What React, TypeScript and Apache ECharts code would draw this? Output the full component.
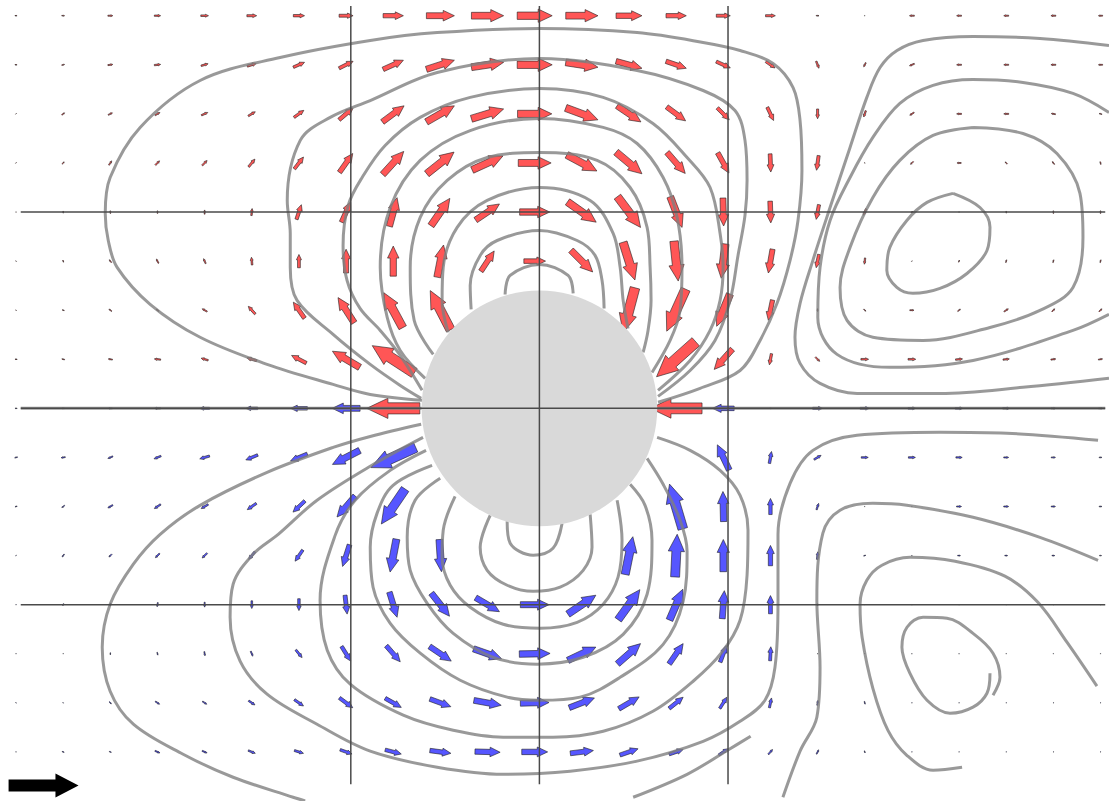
import React, { useEffect, useRef } from "react";
import * as echarts from "echarts";

// ---------- axes / frame ----------
const X_MIN = -2.86;
const X_MAX = 3.02;
const Y_MIN = -2.0;
const Y_MAX = 2.08;
const GRID_X = [-1, 0, 1];
const GRID_Y = [-1, 0, 1];
const GRID_X_EXTENT = [-2.75, 3.0];
const GRID_Y_EXTENT = [-1.915, 2.05];

// ---------- cylinder ----------
const CYLINDER_CENTER = [0, 0];
const CYLINDER_RADIUS = 0.6;

// ---------- velocity field (sampling grid) ----------
const ARROW_X = [-2.775, -2.525, -2.275, -2.025, -1.775, -1.525, -1.275, -1.025, -0.775, -0.525, -0.275, -0.025,
  0.225, 0.475, 0.725, 0.975, 1.225, 1.475, 1.725, 1.975, 2.225, 2.475, 2.725, 2.975];
const ARROW_Y = [2.0, 1.75, 1.5, 1.25, 1.0, 0.75, 0.5, 0.25, 0, -0.25, -0.5, -0.75, -1.0, -1.25, -1.5, -1.75];

const U = [
  [0.03, 0.04, 0.07, 0.09, 0.11, 0.14, 0.16, 0.2, 0.29, 0.4, 0.46, 0.5, 0.46, 0.37, 0.29, 0.2, 0.14, 0.04, 0.01, -0.07, -0.07, -0.07, -0.07, -0.06],
  [0.03, 0.04, 0.07, 0.09, 0.1, 0.13, 0.16, 0.2, 0.29, 0.4, 0.46, 0.5, 0.46, 0.37, 0.29, 0.2, 0.13, 0.04, -0.03, -0.07, -0.07, -0.07, -0.07, -0.06],
  [0.01, 0.04, 0.06, 0.07, 0.09, 0.1, 0.14, 0.2, 0.31, 0.4, 0.46, 0.49, 0.46, 0.34, 0.27, 0.17, 0.09, 0, -0.03, -0.06, -0.07, -0.07, -0.06, -0.04],
  [0.01, 0.03, 0.04, 0.06, 0.07, 0.09, 0.13, 0.19, 0.3, 0.39, 0.44, 0.47, 0.43, 0.37, 0.26, 0.16, 0.01, -0.03, 0.01, -0.04, -0.06, -0.03, -0.03, -0.01],
  [0, 0, 0, 0, 0, 0.01, 0.07, 0.13, 0.11, 0.27, 0.34, 0.43, 0.41, 0.33, 0.17, 0.01, 0.01, -0.04, -0.04, -0.03, 0.01, 0, 0, 0],
  [-0.01, -0.01, -0.03, -0.03, -0.03, -0.01, 0, 0, 0, 0.09, 0.19, 0.31, 0.31, 0.17, 0.06, -0.06, -0.06, -0.04, -0.01, 0.01, 0.01, 0.01, 0.01, 0.01],
  [-0.01, -0.03, -0.04, -0.04, -0.07, -0.1, -0.16, -0.23, -0.27, -0.29, 0, 0, 0, -0.17, -0.27, -0.19, -0.06, 0, 0.03, 0.06, 0.04, 0.06, 0.04, 0.04],
  [-0.03, -0.04, -0.06, -0.09, -0.1, -0.14, -0.21, -0.39, -0.6, 0, 0, 0, 0, 0, -0.56, -0.26, -0.03, 0.06, 0.11, 0.11, 0.1, 0.09, 0.07, 0.06],
  [-0.03, -0.04, -0.06, -0.09, -0.14, -0.17, -0.24, -0.4, -0.76, 0, 0, 0, 0, 0, -0.74, -0.31, -0.03, 0.14, 0.13, 0.11, 0.11, 0.1, 0.07, 0.06],
  [-0.04, -0.06, -0.07, -0.1, -0.14, -0.17, -0.24, -0.39, -0.64, 0, 0, 0, 0, 0, 0, -0.17, 0.03, 0.1, 0.1, 0.1, 0.09, 0.07, 0.06, 0.04],
  [-0.03, -0.04, -0.07, -0.09, -0.1, -0.13, -0.17, -0.26, -0.34, 0, 0, 0, 0, 0, -0.19, -0.01, 0, 0.03, 0.01, 0.01, 0.07, 0.07, 0.06, 0.04],
  [-0.01, -0.03, -0.04, -0.06, -0.07, -0.09, -0.11, -0.1, -0.09, 0.03, 0, 0, 0, 0.11, 0.03, 0, 0, 0.01, 0.03, 0.01, 0.04, 0.04, 0.04, 0.03],
  [-0.01, -0.01, -0.01, -0.01, 0, 0, 0, 0.03, 0.11, 0.26, 0.34, 0.41, 0.4, 0.31, 0.19, 0.03, 0, 0, 0, 0.01, 0.01, 0.01, 0.01, 0.01],
  [0, 0, 0, 0.01, 0.01, 0.03, 0.09, 0.13, 0.2, 0.31, 0.4, 0.44, 0.4, 0.33, 0.2, 0.09, 0.01, 0, 0, 0.01, 0.01, 0, 0, 0],
  [0.01, 0.01, 0.03, 0.06, 0.06, 0.09, 0.13, 0.19, 0.23, 0.3, 0.39, 0.41, 0.36, 0.29, 0.2, 0.1, 0.03, 0.01, 0.01, -0.01, -0.01, -0.01, -0.01, -0.01],
  [0.01, 0.03, 0.03, 0.07, 0.07, 0.1, 0.13, 0.17, 0.23, 0.3, 0.36, 0.37, 0.33, 0.26, 0.2, 0.13, 0.06, 0.03, 0.01, -0.01, -0.01, -0.01, -0.01, -0.01],
];

const V = [
  [0, 0, 0, 0, 0, 0, 0, 0, 0, 0, 0, 0, 0, 0, 0, 0, 0, 0, 0, 0, 0, 0, 0, 0],
  [0, 0.01, 0.01, 0.01, 0.03, 0.04, 0.07, 0.1, 0.13, 0.13, 0.07, 0, -0.07, -0.1, -0.1, -0.09, -0.09, -0.1, -0.06, -0.03, 0, 0, 0, 0],
  [0.01, 0.03, 0.03, 0.04, 0.04, 0.06, 0.1, 0.17, 0.23, 0.23, 0.14, 0, -0.17, -0.23, -0.2, -0.17, -0.19, -0.14, -0.09, -0.04, 0, 0, 0.01, 0.01],
  [0.01, 0.03, 0.06, 0.06, 0.07, 0.11, 0.17, 0.27, 0.33, 0.31, 0.2, 0, -0.23, -0.31, -0.3, -0.29, -0.26, -0.21, -0.01, -0.04, 0, 0.03, 0.04, 0.04],
  [0.01, 0.03, 0.04, 0.04, 0.06, 0.1, 0.21, 0.29, 0.41, 0.39, 0.23, 0, -0.29, -0.44, -0.44, -0.4, -0.31, -0.21, -0.09, -0.01, 0, 0.03, 0.04, 0.04],
  [0.01, 0.03, 0.04, 0.06, 0.07, 0.11, 0.19, 0.34, 0.43, 0.46, 0.29, 0, -0.31, -0.54, -0.57, -0.49, -0.34, -0.19, -0.09, 0.01, 0.03, 0.04, 0.04, 0.04],
  [0.01, 0.01, 0.03, 0.03, 0.04, 0.11, 0.23, 0.36, 0.5, 0.56, 0, 0, 0, -0.64, -0.6, -0.46, -0.29, -0.04, -0.03, 0, 0.03, 0.04, 0.04, 0.04],
  [0, 0.01, 0.01, 0.01, 0.03, 0.04, 0.11, 0.23, 0.39, 0, 0, 0, 0, 0, -0.5, -0.29, -0.16, -0.06, 0, 0, 0.01, 0.01, 0.01, 0.01],
  [0, 0, 0, 0, 0, 0, 0, 0, 0, 0, 0, 0, 0, 0, 0, 0, 0, 0, 0, 0, 0, 0, 0, 0],
  [-0.01, -0.01, -0.03, -0.04, -0.04, -0.07, -0.1, -0.2, -0.29, 0, 0, 0, 0, 0, 0, 0.36, 0.17, 0.06, 0, 0, 0, 0, 0, 0],
  [-0.01, -0.03, -0.04, -0.06, -0.06, -0.09, -0.16, -0.3, -0.5, 0, 0, 0, 0, 0, 0.64, 0.43, 0.23, 0.09, 0, 0, 0, 0, 0, 0],
  [-0.01, -0.04, -0.04, -0.06, -0.07, -0.11, -0.16, -0.31, -0.47, -0.46, 0, 0, 0, 0.54, 0.61, 0.46, 0.29, 0.11, 0.01, 0, 0, 0, 0, 0],
  [0, -0.03, -0.04, -0.06, -0.07, -0.11, -0.17, -0.27, -0.36, -0.33, -0.2, 0, 0.27, 0.43, 0.44, 0.4, 0.26, 0.03, 0.01, 0, 0, 0, 0, 0],
  [-0.01, -0.01, -0.03, -0.04, -0.06, -0.07, -0.11, -0.21, -0.23, -0.21, -0.14, 0.01, 0.19, 0.29, 0.29, 0.24, 0.2, 0.01, -0.01, 0, 0, -0.01, -0.01, -0.01],
  [-0.01, -0.01, -0.03, -0.04, -0.04, -0.06, -0.09, -0.14, -0.13, -0.11, -0.07, 0.01, 0.14, 0.17, 0.16, 0.16, 0.14, 0.07, -0.04, 0, 0, 0, 0, 0],
  [0, -0.01, -0.01, -0.03, -0.03, -0.04, -0.04, -0.06, -0.06, -0.04, -0.01, 0, 0.04, 0.09, 0.07, 0.09, 0.07, 0.06, -0.03, 0, 0, 0, 0, 0],
];

// columns of the y = 0 row whose arrows are red (the rest of that row is blue)
const MID_ROW_RED_COLS = [8, 14];

// key arrow: [x, y, u, v]; one velocity unit spans KEY_LENGTH_X along x
const KEY_ARROW = [-2.629, -1.921, 1, 0];
const KEY_LENGTH_X = 0.371;

// ---------- streamlines ----------
const STREAM_AXIS_LEFT = [[-2.75, 0], [-0.624, 0]];
const STREAM_AXIS_RIGHT = [[0.624, 0], [3.0, 0]];

const STREAM_U1 = [[-0.622, 0.041], [-0.897, 0.071], [-1.094, 0.122], [-1.444, 0.224], [-1.799, 0.362], [-2.064, 0.53], [-2.239, 0.718], [-2.286, 0.855], [-2.302, 0.993], [-2.276, 1.176], [-2.117, 1.431], [-1.799, 1.67], [-1.375, 1.787], [-0.897, 1.874], [-0.542, 1.914], [0, 1.935], [0.518, 1.914], [0.868, 1.864], [1.064, 1.823], [1.239, 1.757], [1.345, 1.634], [1.382, 1.466], [1.392, 1.212], [1.371, 0.957], [1.329, 0.754], [1.26, 0.535], [1.17, 0.346], [1.064, 0.193], [0.852, 0.102], [0.629, 0.031]];
const STREAM_U2 = [[-0.627, 0.051], [-0.738, 0.117], [-0.897, 0.224], [-1.094, 0.377], [-1.285, 0.55], [-1.321, 0.718], [-1.321, 0.891], [-1.337, 1.059], [-1.268, 1.365], [-1.109, 1.482], [-0.897, 1.568], [-0.542, 1.711], [0, 1.782], [0.518, 1.721], [0.868, 1.619], [1.037, 1.517], [1.09, 1.365], [1.101, 1.161], [1.09, 0.983], [1.053, 0.779], [1.011, 0.55], [0.931, 0.346], [0.799, 0.193], [0.629, 0.061]];
const STREAM_U3 = [[-0.622, 0.092], [-0.738, 0.27], [-0.844, 0.397], [-0.951, 0.509], [-1.02, 0.652], [-1.041, 0.83], [-1.014, 1.034], [-0.94, 1.176], [-0.818, 1.339], [-0.632, 1.482], [-0.367, 1.584], [0, 1.629], [0.338, 1.584], [0.602, 1.451], [0.783, 1.278], [0.905, 1.125], [0.958, 0.891], [0.974, 0.718], [0.958, 0.55], [0.905, 0.397], [0.799, 0.244], [0.629, 0.092]];
const STREAM_U4 = [[-0.606, 0.153], [-0.738, 0.295], [-0.807, 0.463], [-0.844, 0.718], [-0.791, 1.023], [-0.632, 1.263], [-0.367, 1.415], [0, 1.477], [0.338, 1.431], [0.518, 1.349], [0.656, 1.176], [0.73, 0.973], [0.756, 0.718], [0.746, 0.499], [0.693, 0.346], [0.597, 0.183]];
const STREAM_U5 = [[-0.563, 0.275], [-0.664, 0.448], [-0.685, 0.718], [-0.632, 0.973], [-0.489, 1.161], [-0.277, 1.278], [0, 1.303], [0.306, 1.263], [0.481, 1.125], [0.571, 0.922], [0.587, 0.718], [0.592, 0.55], [0.576, 0.397], [0.55, 0.285]];
const STREAM_U6 = [[-0.484, 0.387], [-0.516, 0.55], [-0.51, 0.718], [-0.436, 0.922], [-0.277, 1.059], [0, 1.125], [0.269, 1.059], [0.391, 0.891], [0.428, 0.718], [0.444, 0.55], [0.47, 0.407]];
const STREAM_U7 = [[-0.362, 0.504], [-0.367, 0.626], [-0.314, 0.779], [-0.224, 0.855], [0, 0.906], [0.2, 0.855], [0.295, 0.779], [0.332, 0.652], [0.343, 0.509]];
const STREAM_U8 = [[-0.182, 0.58], [-0.155, 0.677], [0, 0.733], [0.152, 0.677], [0.179, 0.586]];

const STREAM_L1 = [[-0.627, -0.081], [-0.897, -0.143], [-1.094, -0.199], [-1.444, -0.326], [-1.799, -0.494], [-2.011, -0.642], [-2.153, -0.794], [-2.276, -0.998], [-2.318, -1.217], [-2.276, -1.441], [-2.153, -1.609], [-1.889, -1.762], [-1.624, -1.879], [-1.306, -1.981], [-1.242, -2.0]];
const STREAM_L2 = [[-0.617, -0.148], [-0.897, -0.295], [-1.179, -0.468], [-1.385, -0.642], [-1.518, -0.743], [-1.624, -0.896], [-1.64, -1.064], [-1.587, -1.288], [-1.444, -1.456], [-1.179, -1.609], [-0.897, -1.746], [-0.542, -1.828], [-0.192, -1.864], [0.163, -1.848], [0.518, -1.797], [0.868, -1.696], [1.064, -1.594], [1.196, -1.487], [1.249, -1.319], [1.265, -0.983], [1.265, -0.642], [1.329, -0.382], [1.45, -0.214], [1.684, -0.137], [2.124, -0.122], [2.479, -0.127], [2.962, -0.163]];
const STREAM_L3 = [[-0.601, -0.214], [-0.791, -0.316], [-0.977, -0.468], [-1.083, -0.647], [-1.163, -0.978], [-1.125, -1.232], [-1.003, -1.405], [-0.722, -1.563], [-0.457, -1.64], [-0.192, -1.675], [0.072, -1.675], [0.338, -1.645], [0.602, -1.543], [0.815, -1.39], [0.968, -1.242], [1.064, -1.079], [1.101, -0.85], [1.106, -0.621], [1.064, -0.443], [0.958, -0.316], [0.799, -0.214], [0.624, -0.148]];
const STREAM_L4 = [[-0.569, -0.29], [-0.776, -0.392], [-0.861, -0.535], [-0.897, -0.708], [-0.882, -0.911], [-0.791, -1.095], [-0.632, -1.247], [-0.42, -1.385], [-0.171, -1.471], [0.004, -1.487], [0.216, -1.471], [0.428, -1.37], [0.656, -1.202], [0.762, -0.983], [0.783, -0.728], [0.746, -0.57], [0.656, -0.387], [0.571, -0.255]];
const STREAM_L5 = [[-0.526, -0.356], [-0.659, -0.468], [-0.701, -0.657], [-0.685, -0.825], [-0.595, -0.993], [-0.457, -1.146], [-0.245, -1.268], [-0.012, -1.303], [0.232, -1.268], [0.444, -1.151], [0.571, -0.947], [0.597, -0.672], [0.56, -0.494], [0.481, -0.387]];
const STREAM_L6 = [[-0.447, -0.448], [-0.51, -0.621], [-0.516, -0.759], [-0.473, -0.901], [-0.367, -1.013], [-0.192, -1.1], [0.004, -1.12], [0.2, -1.09], [0.338, -0.998], [0.417, -0.86], [0.438, -0.672], [0.412, -0.468]];
const STREAM_L7 = [[-0.261, -0.545], [-0.314, -0.708], [-0.277, -0.825], [-0.171, -0.901], [-0.033, -0.932], [0.11, -0.911], [0.232, -0.825], [0.279, -0.708], [0.269, -0.54]];
const STREAM_L8 = [[-0.171, -0.575], [-0.155, -0.687], [-0.033, -0.748], [0.072, -0.713], [0.12, -0.586]];

const STREAM_F = [[0.497, -1.981], [0.783, -1.864], [1.0, -1.74], [1.12, -1.67]];
const STREAM_C = [[1.291, -1.981], [1.382, -1.746], [1.471, -1.573], [1.488, -1.319], [1.471, -0.978], [1.503, -0.636], [1.594, -0.519], [1.768, -0.484], [1.948, -0.494], [2.299, -0.555], [2.654, -0.657], [2.962, -0.774]];
const STREAM_D = [[2.241, -1.828], [2.087, -1.843], [1.948, -1.767], [1.848, -1.64], [1.768, -1.426], [1.711, -1.166], [1.7, -0.998], [1.736, -0.876], [1.816, -0.799], [1.965, -0.759], [2.204, -0.779], [2.468, -0.855], [2.643, -0.988], [2.797, -1.191], [2.956, -1.415]];
const STREAM_E = [[2.405, -1.461], [2.442, -1.37], [2.405, -1.247], [2.299, -1.146], [2.161, -1.069], [2.034, -1.064], [1.949, -1.115], [1.922, -1.217], [1.964, -1.349], [2.055, -1.487], [2.177, -1.553], [2.299, -1.522], [2.373, -1.451], [2.389, -1.349]];

const STREAM_R1 = [[3.02, 1.848], [2.654, 1.884], [2.299, 1.894], [2.034, 1.874], [1.896, 1.823], [1.806, 1.736], [1.736, 1.584], [1.647, 1.329], [1.541, 1.023], [1.45, 0.754], [1.382, 0.535], [1.355, 0.362], [1.382, 0.229], [1.488, 0.127], [1.684, 0.076], [2.124, 0.076], [2.564, 0.107], [3.02, 0.153]];
const STREAM_R2 = [[3.02, 1.507], [2.829, 1.604], [2.564, 1.66], [2.299, 1.675], [2.087, 1.645], [1.911, 1.553], [1.768, 1.38], [1.647, 1.176], [1.541, 0.957], [1.488, 0.718], [1.476, 0.463], [1.578, 0.275], [1.858, 0.209], [2.299, 0.244], [2.829, 0.397], [3.02, 0.479]];
const STREAM_R3 = [[2.299, 1.431], [2.087, 1.39], [1.911, 1.263], [1.768, 1.074], [1.647, 0.82], [1.594, 0.616], [1.631, 0.448], [1.768, 0.362], [2.034, 0.346], [2.389, 0.412], [2.654, 0.499], [2.829, 0.616], [2.882, 0.871], [2.866, 1.095], [2.744, 1.298], [2.564, 1.4], [2.299, 1.431]];
const STREAM_R4 = [[2.193, 1.095], [2.055, 1.049], [1.948, 0.957], [1.858, 0.82], [1.842, 0.703], [1.895, 0.616], [1.98, 0.586], [2.124, 0.611], [2.267, 0.687], [2.373, 0.804], [2.389, 0.922], [2.336, 1.023], [2.193, 1.095]];

const STREAMLINES = [
  STREAM_AXIS_LEFT, STREAM_AXIS_RIGHT,
  STREAM_U1, STREAM_U2, STREAM_U3, STREAM_U4, STREAM_U5, STREAM_U6, STREAM_U7, STREAM_U8,
  STREAM_L1, STREAM_L2, STREAM_L3, STREAM_L4, STREAM_L5, STREAM_L6, STREAM_L7, STREAM_L8,
  STREAM_F, STREAM_C, STREAM_D, STREAM_E,
  STREAM_R1, STREAM_R2, STREAM_R3, STREAM_R4,
];

// ---------- drawing helpers ----------
function arrowPolygon(cx: number, cy: number, dx: number, dy: number, shaftK: number, headK: number, headLenK: number) {
  const L = Math.hypot(dx, dy);
  const ux = dx / L, uy = dy / L;
  const nx = -uy, ny = ux;
  const sw = shaftK * L, hw = headK * L, hl = headLenK * L;
  const tx = cx - (ux * L) / 2, ty = cy - (uy * L) / 2;
  const px = cx + (ux * L) / 2, py = cy + (uy * L) / 2;
  const hx = px - ux * hl, hy = py - uy * hl;
  return [
    [tx + nx * sw, ty + ny * sw],
    [hx + nx * sw, hy + ny * sw],
    [hx + nx * hw, hy + ny * hw],
    [px, py],
    [hx - nx * hw, hy - ny * hw],
    [hx - nx * sw, hy - ny * sw],
    [tx - nx * sw, ty - ny * sw],
  ];
}

function buildOption() {
  const arrowData: number[][] = [];
  ARROW_Y.forEach((y, j) => {
    ARROW_X.forEach((x, k) => {
      const u = U[j][k], v = V[j][k];
      if (u === 0 && v === 0) return;
      let blue = y < 0;
      if (y === 0) blue = !MID_ROW_RED_COLS.includes(k);
      arrowData.push([x, y, u, v, blue ? 1 : 0]);
    });
  });

  const series: any[] = [];

  series.push({
    type: "custom",
    coordinateSystem: "cartesian2d",
    data: arrowData,
    encode: { x: 0, y: 1 },
    z: 2,
    silent: true,
    clip: false,
    renderItem: (_p: any, api: any) => {
      const c = api.coord([api.value(0), api.value(1)]);
      const s = api.size([KEY_LENGTH_X, 0])[0];
      const dx = api.value(2) * s;
      const dy = -api.value(3) * s;
      if (Math.hypot(dx, dy) < 0.3) return null;
      const blue = api.value(4) === 1;
      return {
        type: "polygon",
        shape: { points: arrowPolygon(c[0], c[1], dx, dy, 0.105, 0.19, 0.4) },
        style: { fill: blue ? "#5656ff" : "#ff5656", stroke: "#1e1e1e", lineWidth: 0.6 },
      };
    },
  });

  STREAMLINES.forEach((pts) => {
    series.push({
      type: "line",
      data: pts,
      showSymbol: false,
      symbol: "none",
      smooth: 0.35,
      silent: true,
      z: 3,
      lineStyle: { color: "rgba(128,128,128,0.8)", width: 3 },
    });
  });

  series.push({
    type: "custom",
    coordinateSystem: "cartesian2d",
    data: [[CYLINDER_CENTER[0], CYLINDER_CENTER[1], CYLINDER_RADIUS]],
    encode: { x: 0, y: 1 },
    z: 4,
    silent: true,
    renderItem: (_p: any, api: any) => {
      const c = api.coord([api.value(0), api.value(1)]);
      const r = api.size([0, api.value(2)])[1];
      return { type: "circle", shape: { cx: c[0], cy: c[1], r }, style: { fill: "#d9d9d9" } };
    },
  });

  GRID_X.forEach((x) => {
    series.push({
      type: "line",
      data: [[x, GRID_Y_EXTENT[0]], [x, GRID_Y_EXTENT[1]]],
      showSymbol: false,
      symbol: "none",
      silent: true,
      z: 5,
      lineStyle: { color: "#4a4a4a", width: 1.5 },
    });
  });
  GRID_Y.forEach((y) => {
    series.push({
      type: "line",
      data: [[GRID_X_EXTENT[0], y], [GRID_X_EXTENT[1], y]],
      showSymbol: false,
      symbol: "none",
      silent: true,
      z: 5,
      lineStyle: { color: "#4a4a4a", width: 1.5 },
    });
  });

  series.push({
    type: "custom",
    coordinateSystem: "cartesian2d",
    data: [KEY_ARROW],
    encode: { x: 0, y: 1 },
    z: 6,
    silent: true,
    clip: false,
    renderItem: (_p: any, api: any) => {
      const c = api.coord([api.value(0), api.value(1)]);
      const s = api.size([KEY_LENGTH_X, 0])[0];
      const dx = api.value(2) * s;
      const dy = -api.value(3) * s;
      return {
        type: "polygon",
        shape: { points: arrowPolygon(c[0], c[1], dx, dy, 0.086, 0.171, 0.33) },
        style: { fill: "#000000" },
      };
    },
  });

  return {
    animation: false,
    backgroundColor: "#ffffff",
    grid: { left: 0, right: 0, top: 0, bottom: 0 },
    xAxis: { type: "value", min: X_MIN, max: X_MAX, show: false },
    yAxis: { type: "value", min: Y_MIN, max: Y_MAX, show: false },
    series,
  };
}

export default function App() {
  const ref = useRef<HTMLDivElement>(null);
  useEffect(() => {
    if (!ref.current) return;
    const chart = echarts.init(ref.current, undefined, { renderer: "svg" });
    chart.setOption(buildOption());
    return () => chart.dispose();
  }, []);
  return (
    <div
      ref={ref}
      style={{ position: "fixed", left: 0, top: 0, width: 1109, height: 801, background: "#ffffff" }}
    />
  );
}
